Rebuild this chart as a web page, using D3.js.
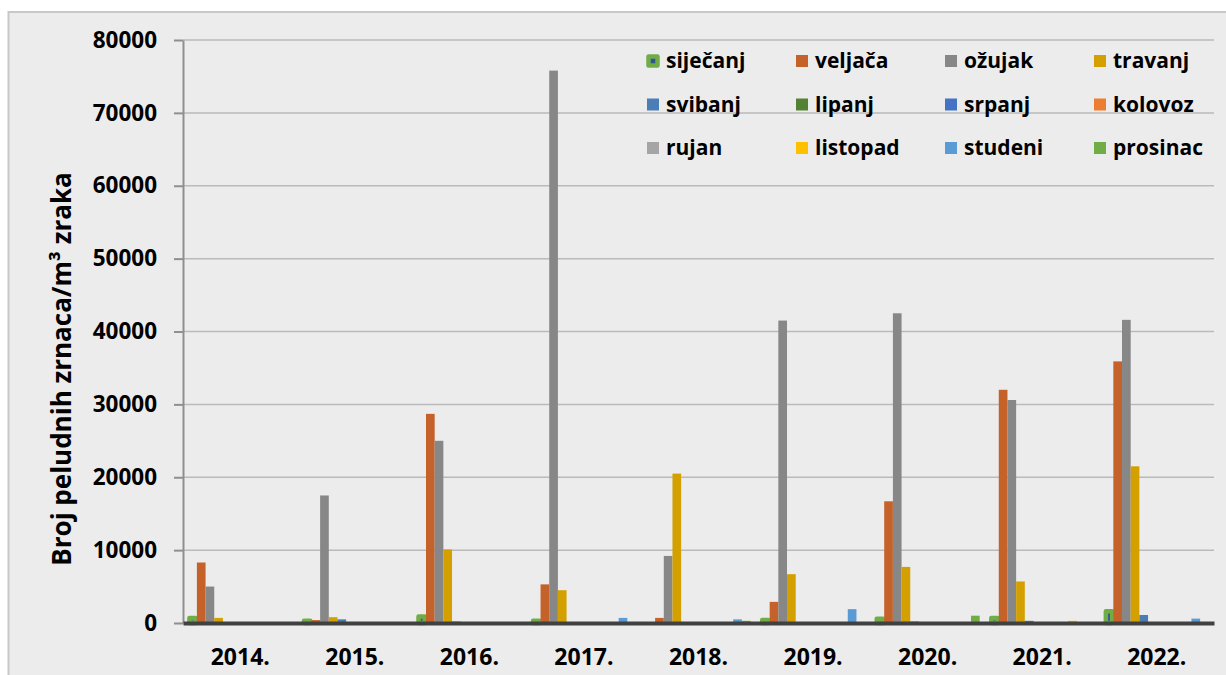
<!DOCTYPE html>
<html>
<head>
<meta charset="utf-8">
<script src="https://cdn.jsdelivr.net/npm/d3@7"></script>
<style>
  body { margin: 0; background: #fff; }
  text { font-family: "Open Sans", sans-serif; font-weight: bold; fill: #000; }
</style>
</head>
<body>
<div id="chart"></div>
<script>
const years = ['2014.', '2015.', '2016.', '2017.', '2018.', '2019.', '2020.', '2021.', '2022.'];
const months = ['siječanj', 'veljača', 'ožujak', 'travanj', 'svibanj', 'lipanj',
  'srpanj', 'kolovoz', 'rujan', 'listopad', 'studeni', 'prosinac'];
const monthColors = ['#70ad47', '#c5622a', '#878787', '#d4a000', '#4a7eb5', '#548235',
  '#4472c4', '#ed7d31', '#a5a5a5', '#ffc000', '#5b9bd5', '#70ad47'];

// values per month, one entry per year (2014.-2022.)
const sijecanj = [700, 300, 900, 300, 0, 400, 600, 700, 1600];
const veljaca  = [8300, 400, 28700, 5300, 700, 2900, 16700, 32000, 35900];
const ozujak   = [5000, 17500, 25000, 75800, 9200, 41500, 42500, 30600, 41600];
const travanj  = [700, 800, 10100, 4500, 20500, 6700, 7700, 5700, 21500];
const svibanj  = [0, 500, 200, 0, 0, 0, 200, 300, 1100];
const lipanj   = [0, 0, 0, 0, 0, 0, 0, 0, 0];
const srpanj   = [0, 0, 0, 0, 0, 0, 0, 0, 0];
const kolovoz  = [0, 0, 0, 0, 0, 0, 0, 0, 0];
const rujan    = [0, 0, 0, 0, 0, 0, 0, 0, 0];
const listopad = [0, 0, 0, 0, 100, 0, 0, 300, 100];
const studeni  = [0, 0, 100, 700, 500, 1900, 0, 0, 600];
const prosinac = [0, 0, 100, 0, 300, 0, 1000, 0, 0];

const yTicks = [0, 10000, 20000, 30000, 40000, 50000, 60000, 70000, 80000];

const series = [sijecanj, veljaca, ozujak, travanj, svibanj, lipanj,
  srpanj, kolovoz, rujan, listopad, studeni, prosinac];

const drawChart = () => {
  const svgWidth = 1226, svgHeight = 675;
  const margin = { top: 40, right: 12, bottom: 52, left: 183 };
  const height = svgHeight - margin.top - margin.bottom;

  const svg = d3.select('#chart').append('svg')
    .attr('width', svgWidth)
    .attr('height', svgHeight);

  // chart frame
  svg.append('rect')
    .attr('x', 8.5).attr('y', 12)
    .attr('width', svgWidth).attr('height', svgHeight)
    .attr('fill', '#ececec')
    .attr('stroke', '#c8c8c8')
    .attr('stroke-width', 2);

  const x0 = d3.scaleBand()
    .domain(years)
    .range([margin.left, svgWidth - margin.right])
    .padding(0);

  const x1 = d3.scaleBand()
    .domain(months)
    .range([0, x0.bandwidth()])
    .paddingInner(0)
    .paddingOuter(0.6);

  const y = d3.scaleLinear()
    .domain([0, 80000])
    .range([margin.top + height, margin.top]);

  // gridlines
  svg.append('g')
    .selectAll('line')
    .data(yTicks.slice(1))
    .join('line')
    .attr('x1', margin.left)
    .attr('x2', svgWidth - margin.right)
    .attr('y1', d => y(d))
    .attr('y2', d => y(d))
    .attr('stroke', '#bababa')
    .attr('stroke-width', 1.5);

  const yAxis = svg.append('g')
    .attr('transform', `translate(${margin.left},0)`)
    .call(d3.axisLeft(y).tickValues(yTicks).tickFormat(d3.format('d'))
      .tickSize(9).tickSizeOuter(0).tickPadding(17));
  yAxis.select('.domain').attr('stroke', '#8f8f8f').attr('stroke-width', 2);
  yAxis.selectAll('.tick line').attr('stroke', '#8f8f8f').attr('stroke-width', 2);
  yAxis.selectAll('.tick text')
    .attr('font-family', '"Open Sans", sans-serif')
    .attr('font-weight', 'bold')
    .attr('font-size', 22.5)
    .attr('fill', '#000');

  // bars
  const groups = svg.append('g')
    .selectAll('g')
    .data(years)
    .join('g')
    .attr('transform', d => `translate(${x0(d)},0)`);

  groups.selectAll('rect')
    .data((yr, i) => months.map((m, j) => ({ month: m, j, value: series[j][i] })))
    .join('rect')
    .filter(d => d.value > 0)
    .attr('x', d => d.j === 0 ? x1(d.month) + 1.2 : x1(d.month))
    .attr('width', d => d.j === 0 ? x1.bandwidth() - 2.4 : x1.bandwidth())
    .attr('y', d => y(d.value))
    .attr('height', d => y(0) - y(d.value))
    .attr('fill', d => d.j === 0 ? '#2f5597' : monthColors[d.j])
    .attr('stroke', d => d.j === 0 ? monthColors[0] : 'none')
    .attr('stroke-width', d => d.j === 0 ? 4.5 : 0)
    .attr('stroke-linejoin', 'round');

  // category axis
  const xAxis = svg.append('g')
    .attr('transform', `translate(0,${y(0)})`)
    .call(d3.axisBottom(x0).tickSize(0).tickPadding(26));
  xAxis.select('.domain').attr('stroke', '#404040').attr('stroke-width', 4);
  xAxis.selectAll('.tick text')
    .attr('font-family', '"Open Sans", sans-serif')
    .attr('font-weight', 'bold')
    .attr('font-size', 23)
    .attr('fill', '#000');

  // y title
  svg.append('text')
    .attr('transform', `translate(71,${369}) rotate(-90)`)
    .attr('text-anchor', 'middle')
    .attr('font-size', 26)
    .text('Broj peludnih zrnaca/m³ zraka');

  // legend
  const legend = svg.append('g')
    .selectAll('g')
    .data(months)
    .join('g')
    .attr('transform', (d, i) => `translate(${647 + (i % 4) * 149},${61 + Math.floor(i / 4) * 43.5})`);

  legend.append('rect')
    .attr('x', (d, i) => i === 0 ? 1.5 : 0)
    .attr('y', (d, i) => i === 0 ? -4.5 : -6)
    .attr('width', (d, i) => i === 0 ? 9 : 12)
    .attr('height', (d, i) => i === 0 ? 9 : 12)
    .attr('fill', (d, i) => i === 0 ? '#2f5597' : monthColors[i])
    .attr('stroke', (d, i) => i === 0 ? monthColors[0] : 'none')
    .attr('stroke-width', (d, i) => i === 0 ? 4.5 : 0)
    .attr('stroke-linejoin', 'round');

  legend.append('text')
    .attr('x', 19)
    .attr('dy', '0.35em')
    .attr('font-size', 21)
    .text(d => d);
};

drawChart();
</script>
</body>
</html>
